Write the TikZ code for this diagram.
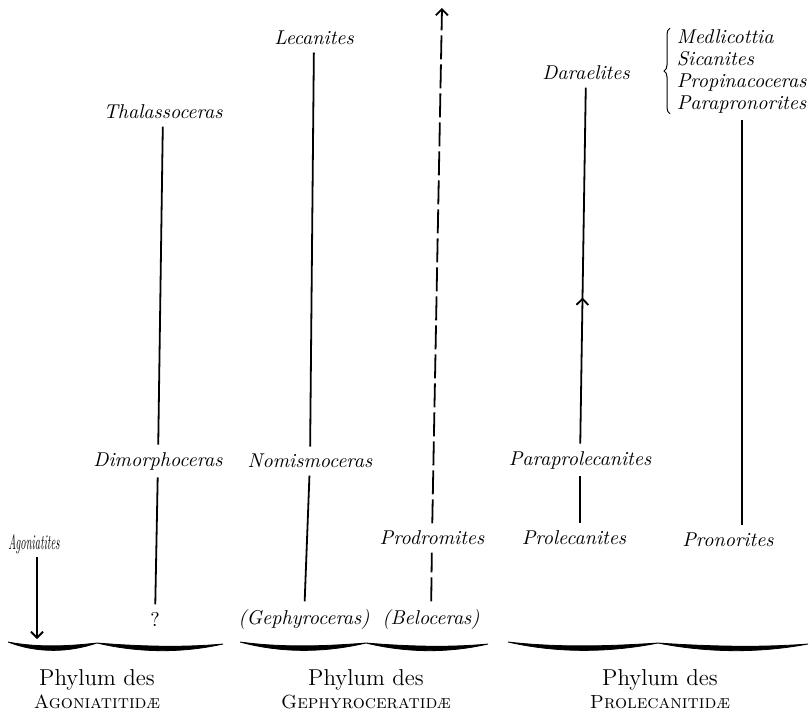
\documentclass[tikz,border=0pt]{standalone}
\usetikzlibrary{arrows.meta,decorations.pathreplacing,decorations.markings}

% thick printer's brace under each phylum: left end, tip, right end, height
\newcommand\phylumbrace[4]{%
  \filldraw[line width=0.4pt]
    (#1,#4-3) .. controls ({#1+0.35*(#2-#1)},#4+9) and ({#2-0.3*(#2-#1)},#4+7) .. (#2,#4-2)
    .. controls ({#2+0.3*(#3-#2)},#4+7) and ({#3-0.35*(#3-#2)},#4+9) .. (#3,#4-1)
    .. controls ({#3-0.35*(#3-#2)},#4+3) and ({#2+0.3*(#3-#2)},#4+1) .. (#2,#4-2)
    .. controls ({#2-0.3*(#2-#1)},#4+1) and ({#1+0.35*(#2-#1)},#4+3) .. (#1,#4-3) -- cycle;}

\begin{document}
\begin{tikzpicture}[x=0.5pt,y=-0.5pt,line width=0.9pt,
  >={Straight Barb[length=3pt,width=6pt]},
  taxon/.style={font=\itshape},
  phylum/.style={align=center,inner sep=1pt,font=\fontsize{11.5}{11.5}\selectfont}]
\useasboundingbox (0,0) rectangle (809,712);

% upper level
\node[taxon] (lec) at (314,38) {Lecanites};
\node[taxon] (tha) at (163,112) {Thalassoceras};
\node[taxon] (dar) at (586,73) {Daraelites};
\node[taxon,anchor=west,align=left,inner sep=3pt,font=\itshape\fontsize{10}{11}\selectfont] (medl) at (670,71)
  {Medlicottia\\Sicanites\\Propinacoceras\\Parapronorites};
\draw[line width=0.5pt,decorate,decoration={brace,amplitude=3pt}]
  ([yshift=3pt]medl.south west) -- ([yshift=-3pt]medl.north west);

% middle level
\node[taxon] (dim) at (158,461) {Dimorphoceras};
\node[taxon] (nom) at (310,461) {Nomismoceras};
\node[taxon] (parap) at (580,460) {Paraprolecanites};

\node[inner sep=1pt] (ago) at (34,544) {\fontsize{10.5}{10.5}\selectfont\scalebox{0.5}[1]{\itshape Agoniatites}};
\node[taxon] (prod) at (432,538) {Prodromites};
\node[taxon] (prol) at (574,538) {Prolecanites};
\node[taxon] (pron) at (728,540) {Pronorites};

% bottom level
\node (q) at (155,619) {?};
\node[taxon] (geph) at (304,619) {(Gephyroceras)};
\node[taxon] (bel) at (431,619) {(Beloceras)};

\coordinate (belTop) at (442,8);
\coordinate (agoEnd) at (37,639);

\draw (lec) -- (nom);
\draw (nom) -- (geph);
\draw (tha) -- (dim);
\draw (dim) -- (q);
\draw[dash pattern=on 12pt off 2.5pt] (bel) -- (prod);
\draw[->,dash pattern=on 12pt off 2.5pt] (prod) -- (belTop);
\draw[postaction={decorate,decoration={markings,mark=at position 0.41 with {\arrow{>}}}}]
  (parap) -- (dar);
\draw (parap.south) -- (parap.south |- prol.north);
\draw (medl.south) -- (medl.south |- pron.north);
\draw[->] (ago.south -| agoEnd) -- (agoEnd);

% the three phyla
\phylumbrace{8}{97}{223}{645}
\phylumbrace{240}{366}{488}{645}
\phylumbrace{508}{658}{808}{645}

\node[phylum] (phA) at (97,689) {Phylum des\\{\fontsize{9.5}{9.5}\selectfont\textsc{Agoniatitid\ae}}};
\node[phylum] (phG) at (366,689) {Phylum des\\{\fontsize{9.5}{9.5}\selectfont\textsc{Gephyroceratid\ae}}};
\node[phylum] (phP) at (660,689) {Phylum des\\{\fontsize{9.5}{9.5}\selectfont\textsc{Prolecanitid\ae}}};
\end{tikzpicture}
\end{document}
